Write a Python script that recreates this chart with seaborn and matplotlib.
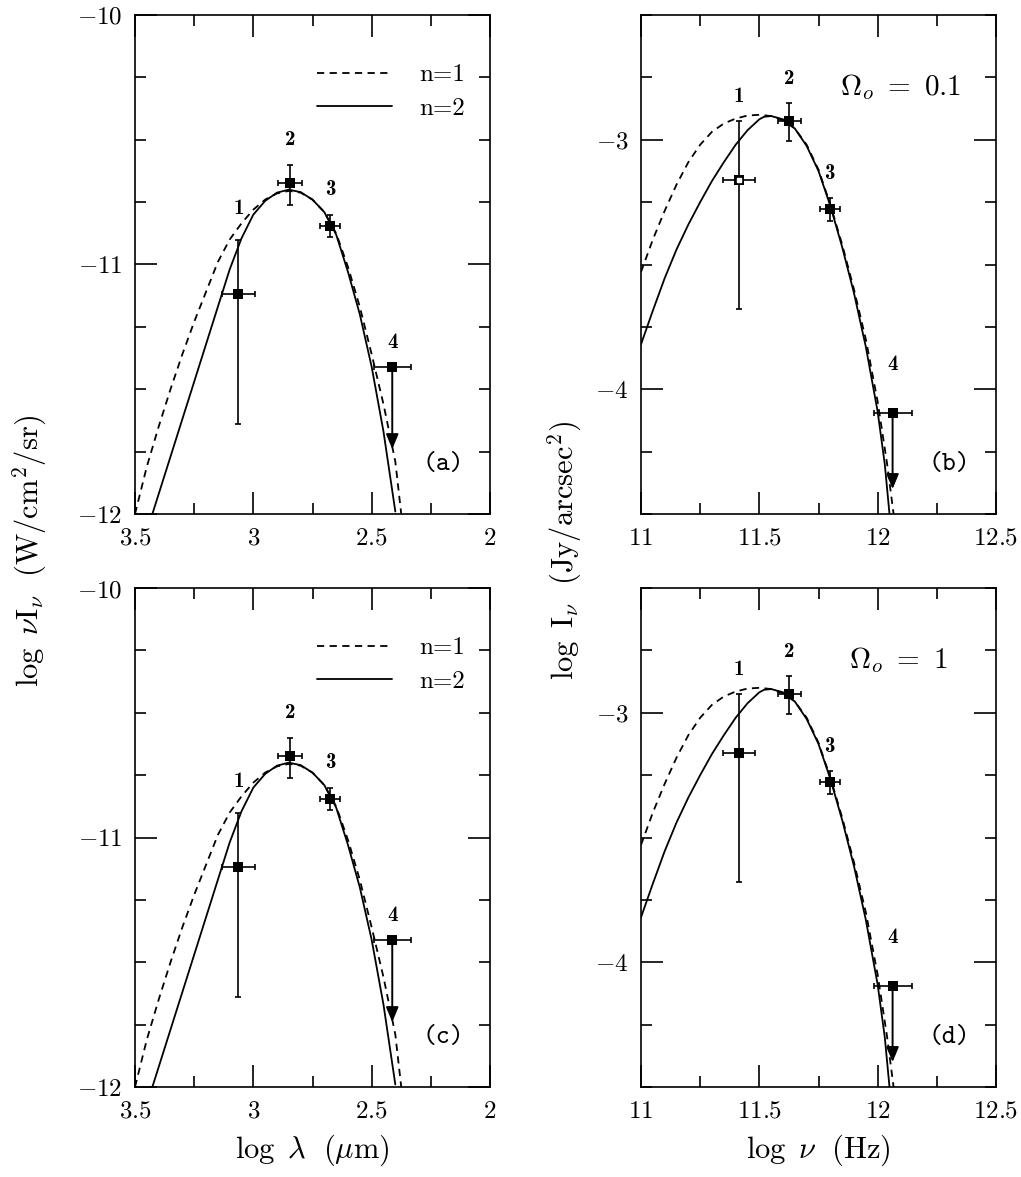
import matplotlib
matplotlib.use("Agg")
import matplotlib.pyplot as plt
from matplotlib.ticker import FixedLocator, MultipleLocator, FuncFormatter
from matplotlib.lines import Line2D
import seaborn as sns

sns.set_theme(style="ticks", rc={
    "axes.edgecolor": "black", "xtick.color": "black", "ytick.color": "black",
    "text.color": "black", "axes.labelcolor": "black", "axes.linewidth": 1.1,
})
plt.rcParams["font.family"] = ["DejaVu Serif"]
plt.rcParams["mathtext.fontset"] = "cm"

# ---- values ----
point_ids = ["1", "2", "3", "4"]

# left column: log lambda (um) vs log nu I_nu (W/cm^2/sr)
lam_x = [3.063, 2.846, 2.676, 2.413]
lam_y = [-11.12, -10.672, -10.846, -11.411]
lam_xerr = [0.068, 0.05, 0.042, 0.079]
lam_yerr_lo = [0.52, 0.088, 0.045, 0.0]
lam_yerr_hi = [0.22, 0.072, 0.045, 0.0]
lam_limit = -11.74  # point 4 is an upper limit

lam_n1_x = [3.50, 3.45, 3.40, 3.35, 3.30, 3.25, 3.20, 3.15, 3.10, 3.05, 3.00, 2.95,
            2.90, 2.85, 2.80, 2.75, 2.70, 2.65, 2.60, 2.55, 2.50, 2.45, 2.40, 2.375]
lam_n1_y = [-12.00, -11.81, -11.65, -11.50, -11.36, -11.23, -11.11, -10.99, -10.90,
            -10.835, -10.78, -10.74, -10.715, -10.705, -10.712, -10.74, -10.79, -10.875,
            -11.01, -11.17, -11.36, -11.56, -11.79, -12.00]
lam_n2_x = [3.43, 3.40, 3.35, 3.30, 3.25, 3.20, 3.15, 3.10, 3.05, 3.00, 2.95, 2.90,
            2.85, 2.80, 2.75, 2.70, 2.65, 2.60, 2.55, 2.50, 2.45, 2.40]
lam_n2_y = [-12.01, -11.92, -11.77, -11.62, -11.47, -11.32, -11.17, -11.02, -10.895,
            -10.80, -10.745, -10.712, -10.70, -10.71, -10.74, -10.79, -10.88, -11.03,
            -11.20, -11.41, -11.67, -11.99]

# right column: log nu (Hz) vs log I_nu (Jy/arcsec^2)
nu_x = [11.413, 11.627, 11.797, 12.063]
nu_y = [-3.160, -2.924, -3.278, -4.096]
nu_xerr = [0.067, 0.05, 0.042, 0.08]
nu_yerr_lo = [0.518, 0.083, 0.047, 0.0]
nu_yerr_hi = [0.234, 0.071, 0.044, 0.0]
nu_limit = -4.40

nu_n1_x = [11.00, 11.05, 11.10, 11.15, 11.20, 11.25, 11.30, 11.35, 11.40, 11.45, 11.50,
           11.55, 11.60, 11.65, 11.70, 11.75, 11.80, 11.85, 11.90, 11.95, 12.00, 12.04, 12.07]
nu_n1_y = [-3.53, -3.40, -3.285, -3.18, -3.09, -3.02, -2.968, -2.935, -2.915, -2.903, -2.90,
           -2.905, -2.922, -2.955, -3.02, -3.12, -3.26, -3.42, -3.60, -3.80, -4.05, -4.30, -4.52]
nu_n2_x = [11.00, 11.05, 11.10, 11.15, 11.20, 11.25, 11.30, 11.35, 11.40, 11.45, 11.50,
           11.52, 11.55, 11.60, 11.65, 11.70, 11.75, 11.80, 11.85, 11.90, 11.95, 12.00,
           12.03, 12.05, 12.06]
nu_n2_y = [-3.82, -3.685, -3.555, -3.44, -3.34, -3.25, -3.165, -3.09, -3.02, -2.962, -2.918,
           -2.908, -2.905, -2.918, -2.955, -3.025, -3.125, -3.265, -3.43, -3.615, -3.83,
           -4.09, -4.30, -4.50, -4.58]

omega_labels = [r"$\Omega_o\ =\ 0.1$", r"$\Omega_o\ =\ 1$"]
panel_tags = ["(a)", "(b)", "(c)", "(d)"]
legend_labels = ["n=1", "n=2"]

W, H = 1021, 1177
fig = plt.figure(figsize=(W / 100, H / 100), dpi=100)


def frac(x0, y0, x1, y1):
    return [x0 / W, 1 - y1 / H, (x1 - x0) / W, (y1 - y0) / H]


ax_a = fig.add_axes(frac(135, 15, 490, 514))
ax_b = fig.add_axes(frac(641, 15, 996, 514))
ax_c = fig.add_axes(frac(135, 588, 490, 1087))
ax_d = fig.add_axes(frac(641, 588, 996, 1087))

fmt = FuncFormatter(lambda v, p: f"${v:g}$")


def style_axes(ax, xlim, ylim, xmajor, ymajor):
    ax.set_xlim(*xlim)
    ax.set_ylim(*ylim)
    ax.xaxis.set_major_locator(FixedLocator(xmajor))
    ax.yaxis.set_major_locator(FixedLocator(ymajor))
    ax.xaxis.set_minor_locator(MultipleLocator(0.25))
    ax.yaxis.set_minor_locator(MultipleLocator(0.25))
    ax.xaxis.set_major_formatter(fmt)
    ax.yaxis.set_major_formatter(fmt)
    ax.tick_params(which="both", direction="in", top=True, right=True,
                   width=1.2, color="black")
    ax.tick_params(which="major", length=16, labelsize=18, pad=9)
    ax.tick_params(which="minor", length=8)
    for s in ax.spines.values():
        s.set_linewidth(1.2)
        s.set_color("black")
    ax.set_xlabel("")
    ax.set_ylabel("")


def draw_panel(ax, px, py, pxerr, ylo, yhi, limit, c1x, c1y, c2x, c2y, offsets, hollow_first=False):
    sns.lineplot(x=c1x, y=c1y, ax=ax, color="black", lw=1.3, linestyle=(0, (4, 3)),
                 sort=False, estimator=None)
    sns.lineplot(x=c2x, y=c2y, ax=ax, color="black", lw=1.3, sort=False, estimator=None)
    ax.errorbar(px, py, xerr=pxerr, yerr=[ylo, yhi], fmt="none", ecolor="black",
                elinewidth=1.2, capsize=2.5, capthick=1.2, zorder=3)
    sns.scatterplot(x=px, y=py, ax=ax, marker="s", s=50, color="black",
                    edgecolor="black", linewidth=0, zorder=4)
    if hollow_first:
        ax.scatter(px[0], py[0], marker="s", s=5, color="white", zorder=5)
    ax.annotate("", xy=(px[3], limit), xytext=(px[3], py[3]),
                arrowprops=dict(arrowstyle="-|>,head_length=0.6,head_width=0.25",
                                color="black", lw=1.4, shrinkA=0, shrinkB=0,
                                mutation_scale=15))
    for i, lab in enumerate(point_ids):
        ax.annotate(lab, (px[i], py[i] + yhi[i]),
                    xytext=(0, offsets[i]), textcoords="offset points",
                    ha="center", va="center", fontsize=15, family="cmb10")


legend_handles = [Line2D([], [], color="black", lw=1.3, linestyle=(0, (4, 3))),
                  Line2D([], [], color="black", lw=1.3)]

for ax, tag in [(ax_a, panel_tags[0]), (ax_c, panel_tags[2])]:
    draw_panel(ax, lam_x, lam_y, lam_xerr, lam_yerr_lo, lam_yerr_hi, lam_limit,
               lam_n1_x, lam_n1_y, lam_n2_x, lam_n2_y, [22, 18, 18, 18])
    style_axes(ax, (3.5, 2), (-12, -10), [3.5, 3, 2.5, 2], [-12, -11, -10])
    ax.legend(legend_handles, legend_labels, loc="upper right",
              bbox_to_anchor=(0.93, 0.902), frameon=False,
              prop={"family": "cmr10", "size": 18},
              handlelength=3.0, handletextpad=1.1, labelspacing=0.45,
              borderpad=0, borderaxespad=0)
    ax.text(0.868, 0.10, tag, transform=ax.transAxes, fontsize=19,
            family="cmtt10", ha="center", va="center")

for ax, tag, om, ox in [(ax_b, panel_tags[1], omega_labels[0], 0.56),
                        (ax_d, panel_tags[3], omega_labels[1], 0.585)]:
    draw_panel(ax, nu_x, nu_y, nu_xerr, nu_yerr_lo, nu_yerr_hi, nu_limit,
               nu_n1_x, nu_n1_y, nu_n2_x, nu_n2_y, [18, 18, 18, 35],
               hollow_first=(tag == "(b)"))
    style_axes(ax, (11, 12.5), (-4.5, -2.5), [11, 11.5, 12, 12.5], [-4, -3])
    ax.text(ox, 0.855, om, transform=ax.transAxes, fontsize=21, ha="left", va="center")
    ax.text(0.868, 0.10, tag, transform=ax.transAxes, fontsize=19,
            family="cmtt10", ha="center", va="center")

fig.text(30 / W, 1 - 551 / H, r"$\log\ \nu{\rm I}_\nu\ \ ({\rm W/cm}^2{\rm /sr})$",
         rotation=90, ha="center", va="center", fontsize=22)
fig.text(565 / W, 1 - 551 / H, r"$\log\ {\rm I}_\nu\ \ ({\rm Jy/arcsec}^2)$",
         rotation=90, ha="center", va="center", fontsize=22)
fig.text(312 / W, 1 - 1150 / H, r"$\log\ \lambda\ \ (\mu{\rm m})$",
         ha="center", va="center", fontsize=22)
fig.text(818 / W, 1 - 1150 / H, r"$\log\ \nu\ \ ({\rm Hz})$",
         ha="center", va="center", fontsize=22)

fig.savefig("out.png", dpi=100, facecolor="white")
plt.close(fig)
